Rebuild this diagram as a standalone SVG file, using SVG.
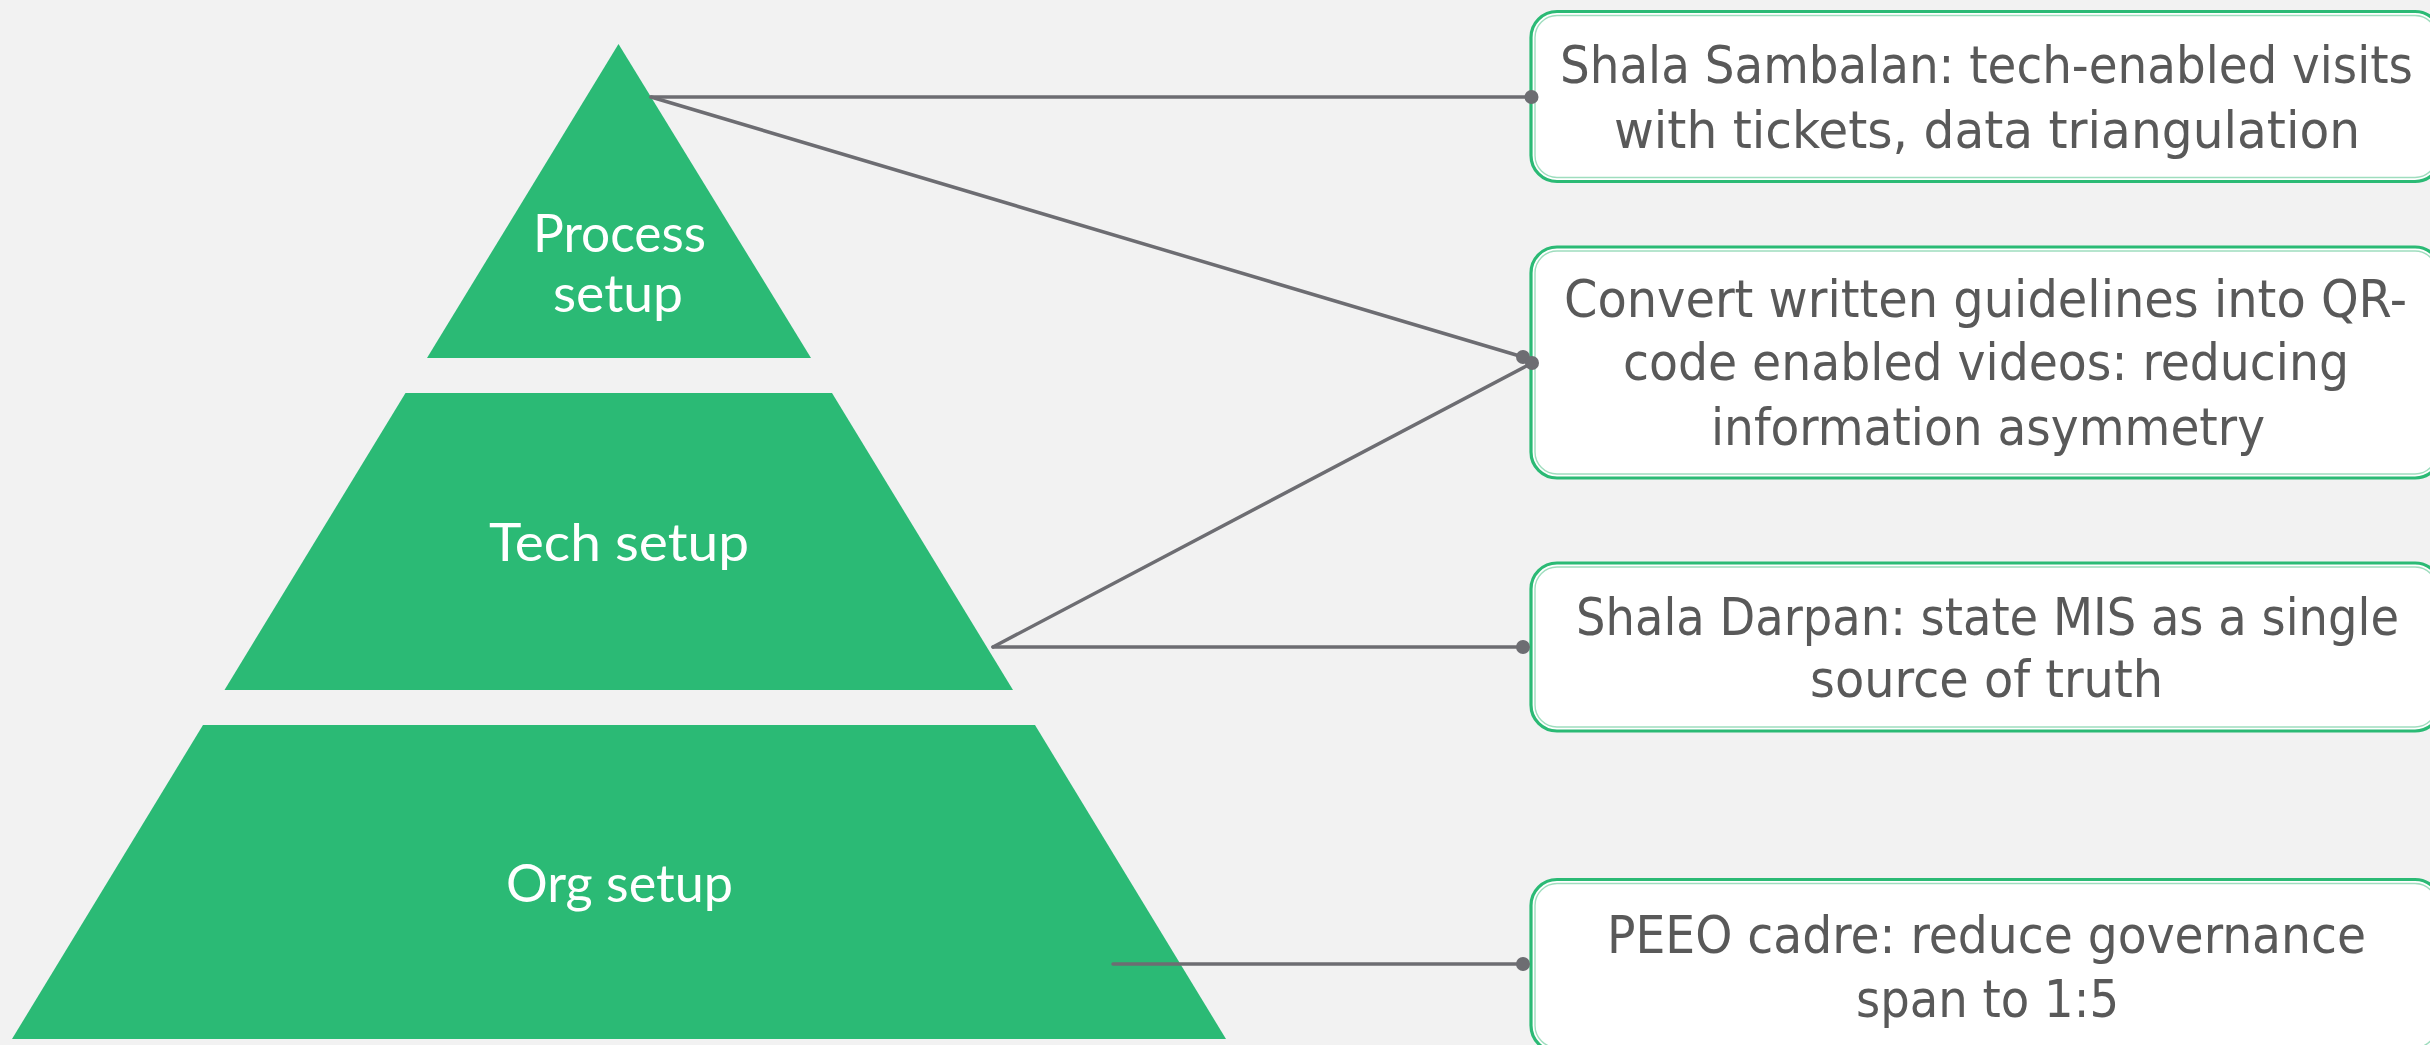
<svg xmlns="http://www.w3.org/2000/svg" width="2430" height="1045" viewBox="0 0 2430 1045">
<style>
.tier{fill:#2BBA75;}
.tl{font-family:Lato,"Open Sans","Noto Sans",sans-serif;font-size:52px;fill:#FFFFFF;}
.box{fill:#FFFFFF;stroke:#2BBA75;stroke-width:3.2;}
.inner{fill:none;stroke:#9FDDBE;stroke-width:1.4;}
.bt{font-family:"DejaVu Sans Condensed","DejaVu Sans",sans-serif;font-stretch:condensed;font-size:51px;fill:#595959;}
.con{stroke:#6D6D72;stroke-width:3.5;fill:none;stroke-linecap:round;}
.dot{fill:#6D6D72;}
</style>
<rect x="0" y="0" width="2430" height="1045" fill="#F2F2F2"/>
<g id="tier-process">
<polygon class="tier" points="618.5,44 811,358 427,358"/>
<text class="tl" x="533" y="252" textLength="173" lengthAdjust="spacingAndGlyphs">Process</text>
<text class="tl" x="553" y="312" textLength="130" lengthAdjust="spacingAndGlyphs">setup</text>
</g>
<g id="tier-tech">
<polygon class="tier" points="405.5,393 832,393 1013,690 224.5,690"/>
<text class="tl" x="489" y="561" textLength="260" lengthAdjust="spacingAndGlyphs">Tech setup</text>
</g>
<g id="tier-org">
<polygon class="tier" points="203,725 1035,725 1226,1039 12,1039"/>
<text class="tl" x="506" y="902" textLength="227" lengthAdjust="spacingAndGlyphs">Org setup</text>
</g>
<g id="connectors">
<line class="con" x1="651" y1="97" x2="1531" y2="97"/>
<line class="con" x1="651" y1="97" x2="1523" y2="357"/>
<line class="con" x1="993" y1="647" x2="1532" y2="363"/>
<line class="con" x1="993" y1="647" x2="1523" y2="647"/>
<line class="con" x1="1113" y1="964" x2="1523" y2="964"/>
</g>
<g id="box-sambalan">
<rect class="box" x="1531" y="11.5" width="910" height="170" rx="26"/>
<rect class="inner" x="1535" y="15.5" width="902" height="162" rx="22"/>
<text class="bt" x="1560" y="83" textLength="853" lengthAdjust="spacingAndGlyphs">Shala Sambalan: tech-enabled visits</text>
<text class="bt" x="1614" y="148" textLength="746" lengthAdjust="spacingAndGlyphs">with tickets, data triangulation</text>
<circle class="dot" cx="1531.5" cy="97" r="7"/>
</g>
<g id="box-qr">
<rect class="box" x="1531" y="247" width="910" height="231" rx="26"/>
<rect class="inner" x="1535" y="251" width="902" height="223" rx="22"/>
<text class="bt" x="1564" y="317" textLength="843" lengthAdjust="spacingAndGlyphs">Convert written guidelines into QR-</text>
<text class="bt" x="1623" y="380" textLength="726" lengthAdjust="spacingAndGlyphs">code enabled videos: reducing</text>
<text class="bt" x="1711" y="445" textLength="554" lengthAdjust="spacingAndGlyphs">information asymmetry</text>
<circle class="dot" cx="1523" cy="357" r="7"/>
<circle class="dot" cx="1532" cy="363" r="7"/>
</g>
<g id="box-darpan">
<rect class="box" x="1531" y="563" width="910" height="168" rx="26"/>
<rect class="inner" x="1535" y="567" width="902" height="160" rx="22"/>
<text class="bt" x="1576" y="635" textLength="823" lengthAdjust="spacingAndGlyphs">Shala Darpan: state MIS as a single</text>
<text class="bt" x="1810" y="697" textLength="353" lengthAdjust="spacingAndGlyphs">source of truth</text>
<circle class="dot" cx="1523" cy="647" r="7"/>
</g>
<g id="box-peeo">
<rect class="box" x="1531" y="879.5" width="910" height="172" rx="26"/>
<rect class="inner" x="1535" y="883.5" width="902" height="164" rx="22"/>
<text class="bt" x="1607" y="953" textLength="759" lengthAdjust="spacingAndGlyphs">PEEO cadre: reduce governance</text>
<text class="bt" x="1856" y="1017" textLength="263" lengthAdjust="spacingAndGlyphs">span to 1:5</text>
<circle class="dot" cx="1523" cy="964" r="7"/>
</g>
</svg>
